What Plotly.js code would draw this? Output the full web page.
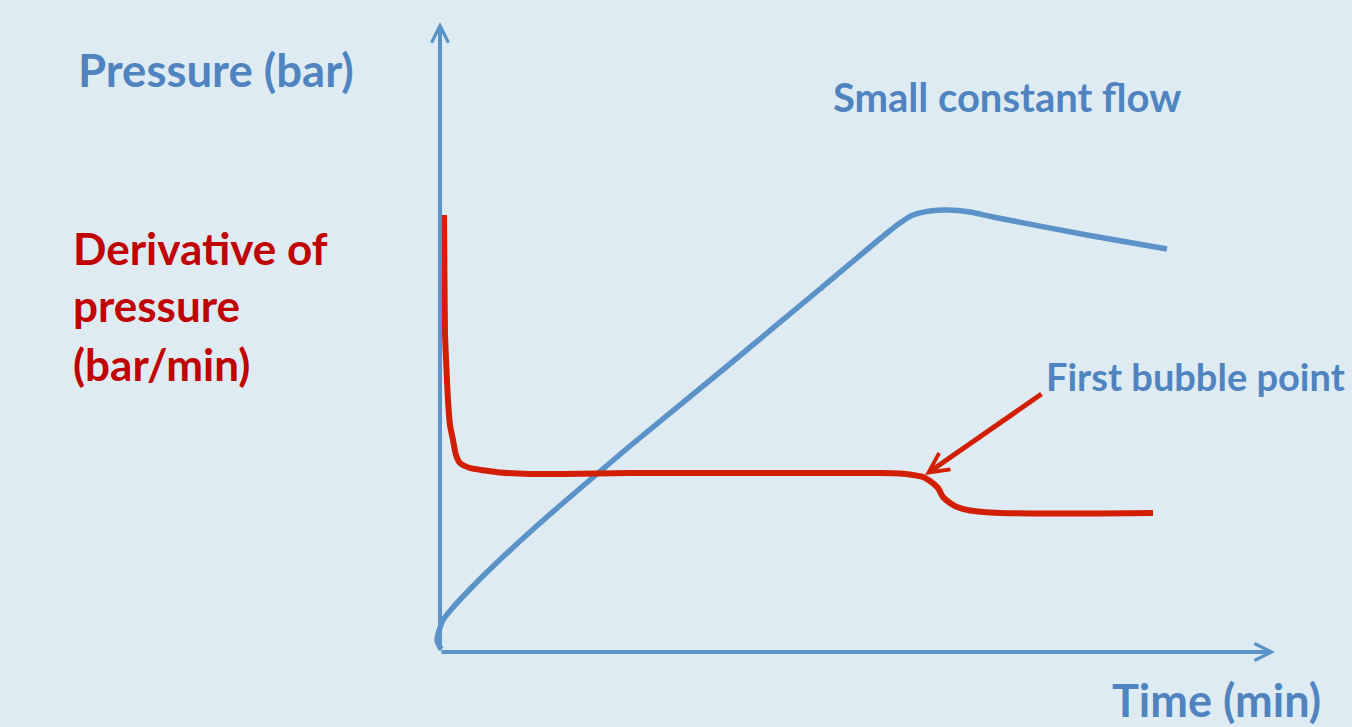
<!DOCTYPE html>
<html>
<head>
<meta charset="utf-8">
<script src="https://cdn.plot.ly/plotly-3.0.1.min.js"></script>
<style>html,body{margin:0;padding:0;background:#dfebf2;overflow:hidden;}</style>
</head>
<body>
<div id="chart" style="width:1352px;height:727px;"></div>
<script>
// Pressure curve (arbitrary units): time vs pressure
const pressureTime   = [0.1, -0.3, 0.3, 1.3, 2.3, 4.0, 5.7, 9.0, 12.3, 15.7, 19.0, 28.5, 38.0, 44.7, 46.0, 47.3, 49.0, 50.7, 53.0, 55.3, 64.7, 72.7];
const pressureValues = [0.6, 2.4, 6.4, 8.9, 11.1, 14.6, 17.9, 24.0, 29.8, 35.6, 41.2, 56.8, 72.6, 83.8, 85.8, 87.4, 88.2, 88.4, 88.0, 87.0, 83.4, 80.6];

// Derivative of pressure curve (arbitrary units)
const derivTime   = [0.4, 0.45, 0.5, 0.65, 0.8, 1.0, 1.3, 1.6, 2.0, 3.0, 4.5, 6.0, 9.0, 12.3, 19.0, 31.0, 44.0, 46.0, 47.3, 48.3, 49.0, 49.8, 50.3, 51.0, 51.7, 53.0, 55.0, 59.0, 66.0, 71.3];
const derivValues = [87.4, 74.4, 63.8, 56.4, 50.4, 45.4, 42.4, 39.4, 37.8, 36.8, 36.3, 35.9, 35.6, 35.6, 35.8, 35.8, 35.8, 35.7, 35.4, 35.0, 34.2, 32.8, 31.0, 29.8, 29.0, 28.3, 27.9, 27.7, 27.7, 27.8];

// Axis extents and the "first bubble point" marker
const axisEnd = {time: 83.5, pressure: 126};
const bubblePoint = {time: 48.5, value: 35.4, labelTime: 60.3, labelValue: 51.8};

// Text labels
const yLabelPressure = "Pressure (bar)";
const yLabelDerivLines = ["Derivative of", "pressure", "(bar/min)"];
const xLabel = "Time (min)";
const flowLabel = "Small constant flow";
const bubbleLabel = "First bubble point";

const BG = "#dfebf2";
const BLUE_LINE = "#5b93c9";
const BLUE_TEXT = "#4f84c0";
const RED_LINE = "#d21f00";
const RED_TEXT = "#c00000";
const FONT = "Lato, 'Open Sans', sans-serif";

const W = 1352, H = 727;
const px = x => x / W;
const py = y => 1 - y / H;

const traces = [
  {x: pressureTime, y: pressureValues, mode: "lines", type: "scatter",
   line: {color: BLUE_LINE, width: 5.5, shape: "spline", smoothing: 0.6}, hoverinfo: "skip"},
  {x: derivTime, y: derivValues, mode: "lines", type: "scatter",
   line: {color: RED_LINE, width: 6, shape: "spline", smoothing: 0.6}, hoverinfo: "skip"}
];

function textAnn(text, x, y, size, color) {
  return {text: "<b>" + text + "</b>", xref: "paper", yref: "paper", x: px(x), y: py(y),
          xanchor: "left", yanchor: "middle", showarrow: false,
          font: {family: FONT, size: size, color: color}};
}

const annotations = [
  // axes arrows
  {xref: "x", yref: "y", axref: "x", ayref: "y", x: axisEnd.time, y: 0, ax: 0, ay: 0, text: "",
   showarrow: true, arrowhead: 5, arrowsize: 0.83, arrowwidth: 4, arrowcolor: BLUE_LINE, standoff: 0},
  {xref: "x", yref: "y", axref: "x", ayref: "y", x: 0, y: axisEnd.pressure, ax: 0, ay: 0, text: "",
   showarrow: true, arrowhead: 5, arrowsize: 0.83, arrowwidth: 4, arrowcolor: BLUE_LINE, standoff: 0},
  // bubble point arrow
  {xref: "x", yref: "y", axref: "x", ayref: "y", x: bubblePoint.time, y: bubblePoint.value,
   ax: bubblePoint.labelTime, ay: bubblePoint.labelValue, text: "",
   showarrow: true, arrowhead: 5, arrowsize: 0.78, arrowwidth: 5, arrowcolor: RED_LINE, standoff: 0},
  textAnn(yLabelPressure, 76, 70, 45.5, BLUE_TEXT),
  textAnn(yLabelDerivLines[0], 71, 248, 44, RED_TEXT),
  textAnn(yLabelDerivLines[1], 71, 305, 44, RED_TEXT),
  textAnn(yLabelDerivLines[2], 71, 364, 44, RED_TEXT),
  textAnn(flowLabel, 831, 97, 40, BLUE_TEXT),
  textAnn(bubbleLabel, 1044, 376, 38, BLUE_TEXT),
  textAnn(xLabel, 1110, 700, 45, BLUE_TEXT)
];

const layout = {
  width: W, height: H,
  margin: {l: 0, r: 0, t: 0, b: 0, pad: 0},
  paper_bgcolor: BG, plot_bgcolor: BG,
  showlegend: false,
  xaxis: {range: [-44, 91.2], visible: false, fixedrange: true},
  yaxis: {range: [-15, 130.4], visible: false, fixedrange: true},
  annotations: annotations
};

Plotly.newPlot("chart", traces, layout, {displayModeBar: false, staticPlot: true});
</script>
</body>
</html>
